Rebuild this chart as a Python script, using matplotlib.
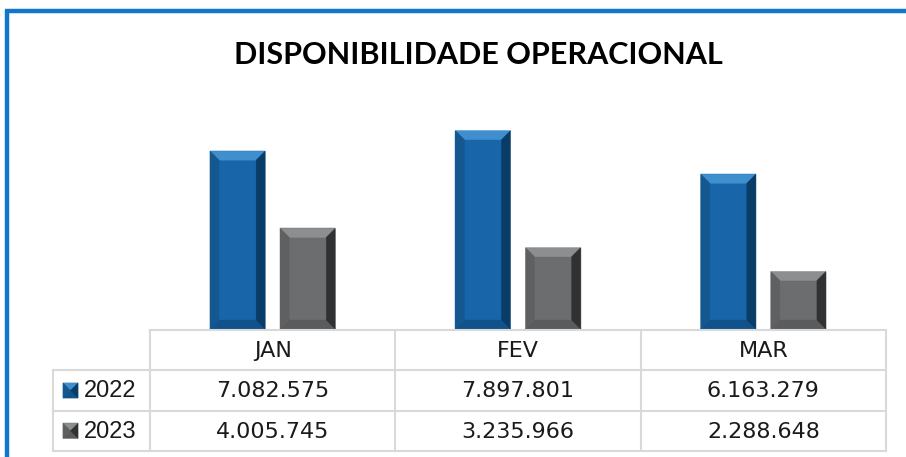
import matplotlib
matplotlib.use("Agg")
import matplotlib.pyplot as plt
from matplotlib.patches import Polygon
from matplotlib.lines import Line2D
import numpy as np

# ---------------- data ----------------
categories = ["JAN", "FEV", "MAR"]
series_names = ["2022", "2023"]
values_2022 = [7082575, 7897801, 6163279]
values_2023 = [4005745, 3235966, 2288648]
value_labels_2022 = ["7.082.575", "7.897.801", "6.163.279"]
value_labels_2023 = ["4.005.745", "3.235.966", "2.288.648"]
title = "DISPONIBILIDADE OPERACIONAL"

# ---------------- style ----------------
W, H = 906, 457
DPI = 100
blue = dict(face="#1866a9", top="#3f8ecd", left="#14588f", right="#0a3c68", bottom="#11528a")
gray = dict(face="#6c6d6f", top="#8d8e90", left="#5f6062", right="#303132", bottom="#5a5b5d")
styles = [blue, gray]
grid_c = "#d9d9d9"
frame_c = "#1277cc"

fig = plt.figure(figsize=(W / DPI, H / DPI), dpi=DPI)
fig.patch.set_facecolor("white")

def fx(px):
    return px / W

def fy(py):
    return 1 - py / H

# frame (top and left blue border)
fig.add_artist(Line2D([fx(5), fx(906)], [fy(11), fy(11)], color=frame_c, lw=3.2,
                      transform=fig.transFigure, solid_capstyle="butt"))
fig.add_artist(Line2D([fx(7), fx(7)], [fy(9.5), fy(457)], color=frame_c, lw=3.2,
                      transform=fig.transFigure, solid_capstyle="butt"))

# title
fig.text(fx(478), fy(55.5), title, ha="center", va="center", fontsize=22,
         fontweight="bold", family=["Lato", "DejaVu Sans"], color="black")

# ---------------- bar axes ----------------
ax_left, ax_right = 150, 886
ax_top, ax_bot = 103, 329
ax = fig.add_axes([fx(ax_left), fy(ax_bot), fx(ax_right - ax_left), (ax_bot - ax_top) / H])
ax.set_xlim(-0.5, 2.5)
ax.set_ylim(0, 9000000)
ax.axis("off")

x = np.arange(len(categories))
bw = 55 / 245
off = 35 / 245
bars_sets = []
for i, vals in enumerate([values_2022, values_2023]):
    bars = ax.bar(x + (-off if i == 0 else off), vals, width=bw, color=styles[i]["face"],
                  linewidth=0)
    bars_sets.append(bars)


def bevel(axis, x0, y0, x1, y1, st, b):
    """x0..y1 in display pixels; add bevel polygons in data coords of axis."""
    inv = axis.transData.inverted()
    def poly(pts, col):
        d = inv.transform(np.array(pts))
        axis.add_patch(Polygon(d, closed=True, facecolor=col, edgecolor=col, lw=0.3,
                               clip_on=False))
    poly([(x0, y0), (x1, y0), (x1, y1), (x0, y1)], st["face"])
    poly([(x0, y1), (x1, y1), (x1 - b, y1 - b), (x0 + b, y1 - b)], st["top"])
    poly([(x0, y0), (x1, y0), (x1 - b, y0 + b), (x0 + b, y0 + b)], st["bottom"])
    poly([(x0, y0), (x0, y1), (x0 + b, y1 - b), (x0 + b, y0 + b)], st["left"])
    poly([(x1, y0), (x1, y1), (x1 - b, y1 - b), (x1 - b, y0 + b)], st["right"])


for i, bars in enumerate(bars_sets):
    for r in bars:
        (px0, py0) = ax.transData.transform((r.get_x(), 0))
        (px1, py1) = ax.transData.transform((r.get_x() + r.get_width(), r.get_height()))
        r.set_visible(False)
        bevel(ax, px0, py0, px1, py1, styles[i], 9)

# ---------------- table axes ----------------
t_left, t_right, t_top, t_bot = 53, 886, 330, 451
legend_w = (150 - 53) / 245
tax = fig.add_axes([fx(t_left), fy(t_bot), fx(t_right - t_left), (t_bot - t_top) / H])
xmin = -0.5 - legend_w
tax.set_xlim(xmin, 2.5)
tax.set_ylim(3, 0)
tax.axis("off")

lw = 1.5
n = len(categories)
tax.plot([-0.5, n - 0.5], [0, 0], color=grid_c, lw=lw, clip_on=False)
for yy in [1, 2, 3]:
    tax.plot([xmin, n - 0.5], [yy, yy], color=grid_c, lw=lw, clip_on=False)
for xx in np.arange(n + 1) - 0.5:
    tax.plot([xx, xx], [0, 3], color=grid_c, lw=lw, clip_on=False)
tax.plot([xmin, xmin], [1, 3], color=grid_c, lw=lw, clip_on=False)

val_font = dict(fontsize=16, family="DejaVu Sans", color="#1a1a1a")
for j, c in enumerate(categories):
    tax.text(j, 0.52, c, ha="center", va="center", **val_font)
    tax.text(j, 1.52, value_labels_2022[j], ha="center", va="center", **val_font)
    tax.text(j, 2.52, value_labels_2023[j], ha="center", va="center", **val_font)

for i, name in enumerate(series_names):
    yc = 1.5 + i
    pxa = tax.transData.transform((xmin + (63 - 53) / 245, yc))
    m = 7.5
    bevel(tax, pxa[0], pxa[1] - m, pxa[0] + 2 * m, pxa[1] + m, styles[i], m)
    tax.text(xmin + (84 - 53) / 245, yc + 0.02, name, ha="left", va="center",
             fontsize=17, family="Liberation Sans", color="#1a1a1a")

fig.savefig("out.png", dpi=DPI, facecolor="white")
